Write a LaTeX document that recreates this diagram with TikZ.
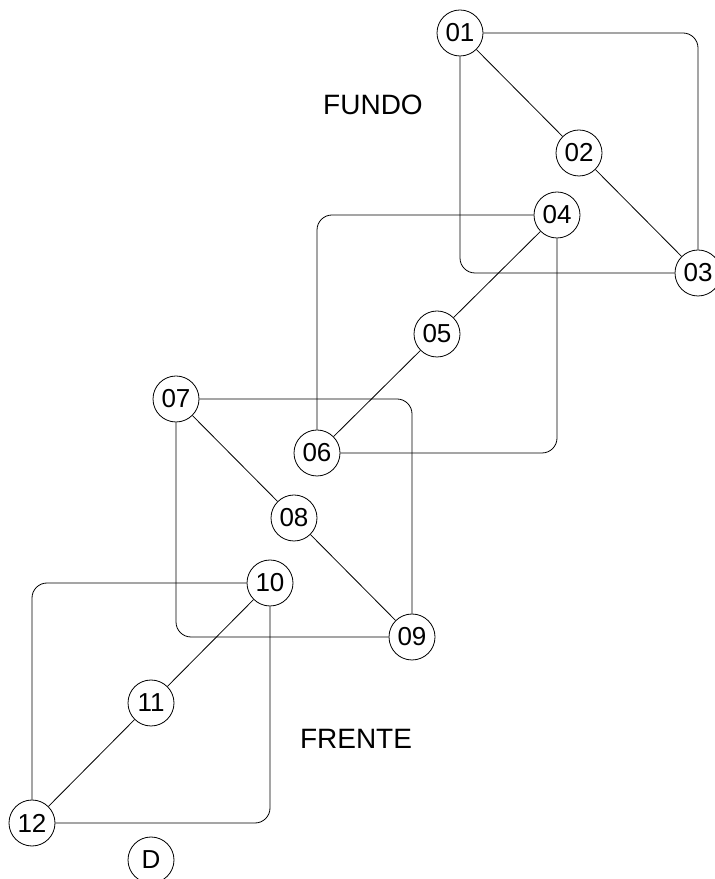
\documentclass[tikz,border=0pt]{standalone}
\usepackage{fontspec}
\setmainfont{Liberation Sans}
\usetikzlibrary{positioning}

\begin{document}
\begin{tikzpicture}[x=1pt, y=1pt, on grid, ponto/.style={circle, draw, line width=0.8pt, minimum size=46pt, inner sep=0pt, font=\fontsize{26}{26}\selectfont}, rotulo/.style={font=\fontsize{28}{28}\selectfont}, liga/.style={line width=0.8pt, rounded corners=15pt}]
\useasboundingbox (0,0) rectangle (715,879);

\node[ponto] (n01) at (460,846) {01};
\node[ponto] (n02) [below right=120pt and 119pt of n01] {02};
\node[ponto] (n03) [below right=120pt and 119pt of n02] {03};

\node[ponto] (n04) at (557,664) {04};
\node[ponto] (n05) [below left=119pt and 120pt of n04] {05};
\node[ponto] (n06) [below left=119pt and 120pt of n05] {06};

\node[ponto] (n07) at (176,480) {07};
\node[ponto] (n08) [below right=119pt and 118pt of n07] {08};
\node[ponto] (n09) [below right=119pt and 118pt of n08] {09};

\node[ponto] (n10) at (270,296) {10};
\node[ponto] (n11) [below left=120pt and 119pt of n10] {11};
\node[ponto] (n12) [below left=120pt and 119pt of n11] {12};

\node[ponto] (d) [below right=37pt and 119pt of n12] {D};

\node[rotulo] (fundo) at (373,774) {FUNDO};
\node[rotulo] (frente) at (356,140) {FRENTE};

\path[liga]
	(n01) edge (n02)
	(n02) edge (n03)
	(n04) edge (n05)
	(n05) edge (n06)
	(n07) edge (n08)
	(n08) edge (n09)
	(n10) edge (n11)
	(n11) edge (n12)
	;
\draw[liga] (n01) -| (n03);
\draw[liga] (n01) |- (n03);
\draw[liga] (n04) -| (n06);
\draw[liga] (n04) |- (n06);
\draw[liga] (n07) -| (n09);
\draw[liga] (n07) |- (n09);
\draw[liga] (n10) -| (n12);
\draw[liga] (n10) |- (n12);
\end{tikzpicture}
\end{document}
